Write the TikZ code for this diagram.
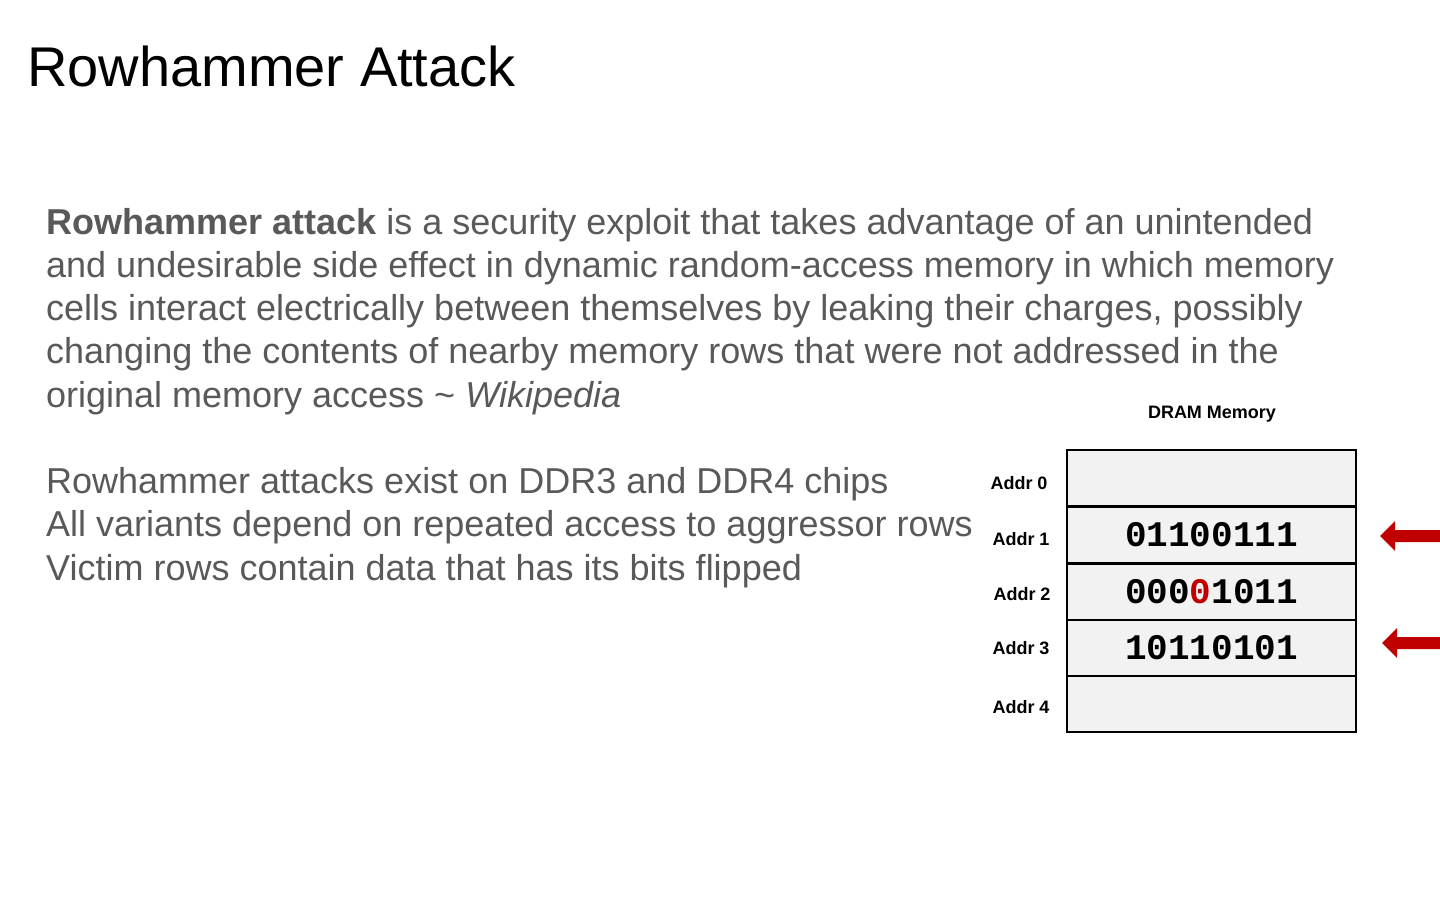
\documentclass[tikz,border=0pt]{standalone}
\usepackage{fontspec}
\setmainfont{Liberation Sans}
\setmonofont{Liberation Mono}
\definecolor{bodygray}{HTML}{595959}
\definecolor{cellfill}{HTML}{F2F2F2}
\definecolor{flipred}{HTML}{C00000}
\begin{document}
\begin{tikzpicture}[x=1pt, y=-1pt,
    line/.style = {anchor=base west, inner sep=0pt, text=bodygray, font=\fontsize{36}{43}\selectfont},
    addr/.style = {inner sep=0pt, font=\fontsize{18}{20}\selectfont\bfseries},
    cell/.style = {draw, line width=2.5pt, fill=cellfill, minimum width=289pt, minimum height=56pt, inner sep=0pt, font=\fontsize{36}{40}\selectfont\ttfamily},
    hammer/.style = {fill=flipred, draw=none}]
    \useasboundingbox (0,0) rectangle (1440,900);

    \node[anchor=base west, inner sep=0pt, font=\fontsize{56}{60}\selectfont] (title) at (27,86) {Rowhammer Attack};

    % definition
    \node[line] (l1) at (46,234) {\textbf{Rowhammer attack} is a security exploit that takes advantage of an unintended};
    \node[line] (l2) at (46,277) {and undesirable side effect in dynamic random-access memory in which memory};
    \node[line] (l3) at (46,320) {cells interact electrically between themselves by leaking their charges, possibly};
    \node[line] (l4) at (46,363) {changing the contents of nearby memory rows that were not addressed in the};
    \node[line] (l5) at (46,407) {original memory access \textasciitilde{} \textit{Wikipedia}};

    \node[line] (p1) at (46,493) {Rowhammer attacks exist on DDR3 and DDR4 chips};
    \node[line] (p2) at (46,536) {All variants depend on repeated access to aggressor rows};
    \node[line] (p3) at (46,580) {Victim rows contain data that has its bits flipped};

    % memory
    \node[addr] (dram) at (1212,414) {DRAM Memory};
    \node[cell] (r0) at (1211.5,478) {};
    \node[cell] (r1) at (1211.5,535) {\textbf{01100111}};
    \node[cell] (r2) at (1211.5,592) {\textbf{000\textcolor{flipred}{0}1011}};
    \node[cell] (r3) at (1211.5,648) {\textbf{10110101}};
    \node[cell] (r4) at (1211.5,704) {};

    \node[addr] (a0) at (1019,483) {Addr 0};
    \node[addr] (a1) at (1021,539) {Addr 1};
    \node[addr] (a2) at (1022,594) {Addr 2};
    \node[addr] (a3) at (1021,648) {Addr 3};
    \node[addr] (a4) at (1021,707) {Addr 4};

    % aggressor arrows
    \fill[hammer] (1380,536) -- (1395,521) -- (1395,530) -- (1440,530) -- (1440,542) -- (1395,542) -- (1395,551) -- cycle;
    \fill[hammer] (1382,643) -- (1397,628) -- (1397,637) -- (1440,637) -- (1440,649) -- (1397,649) -- (1397,658) -- cycle;
\end{tikzpicture}
\end{document}
